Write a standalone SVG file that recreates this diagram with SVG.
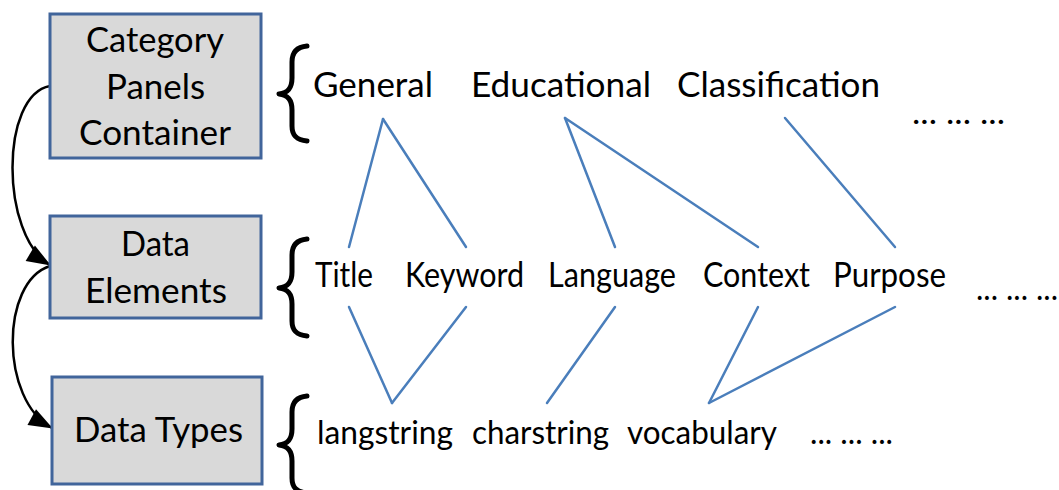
<svg xmlns="http://www.w3.org/2000/svg" width="1059" height="490" viewBox="0 0 1059 490">
<style>
.box{fill:#d9d9d9;stroke:#41659b;stroke-width:3}
.t{font-family:Lato,"Open Sans","Liberation Sans",sans-serif;fill:#000;font-size:34px}
.s{font-size:32px}
.link{stroke:#4a7ebb;stroke-width:2.5;fill:none;stroke-linecap:round}
.brace{stroke:#000;stroke-width:5;fill:none;stroke-linecap:round;stroke-linejoin:round}
.arr{stroke:#000;stroke-width:2.5;fill:none}
</style>
<defs>
<marker id="ah" markerUnits="userSpaceOnUse" markerWidth="26" markerHeight="20" refX="23" refY="9" orient="auto" overflow="visible">
<path d="M0,0 L24,9 L0,18 Z" fill="#000"/>
</marker>
</defs>
<rect width="1059" height="490" fill="#fff"/>
<g id="connectors">
<path class="arr" d="M50,86 C0,95 0,235 50,265" marker-end="url(#ah)"/>
<path class="arr" d="M50,266 C0,282 0,400 52,428" marker-end="url(#ah)"/>
<line class="link" x1="383" y1="119" x2="349" y2="247"/>
<line class="link" x1="383" y1="119" x2="466" y2="247"/>
<line class="link" x1="565" y1="118" x2="615" y2="247"/>
<line class="link" x1="565" y1="118" x2="758" y2="247"/>
<line class="link" x1="785" y1="118" x2="895" y2="247"/>
<line class="link" x1="349" y1="307" x2="392" y2="403"/>
<line class="link" x1="466" y1="307" x2="392" y2="403"/>
<line class="link" x1="615" y1="307" x2="547" y2="403"/>
<line class="link" x1="758" y1="307" x2="709" y2="403"/>
<line class="link" x1="895" y1="307" x2="709" y2="403"/>
</g>
<g id="category-panels">
<rect class="box" x="50" y="14" width="211" height="144"/>
<text class="t" x="86" y="52" textLength="138" lengthAdjust="spacingAndGlyphs">Category</text>
<text class="t" x="106" y="99" textLength="99" lengthAdjust="spacingAndGlyphs">Panels</text>
<text class="t" x="79" y="145" textLength="152" lengthAdjust="spacingAndGlyphs">Container</text>
</g>
<g id="data-elements">
<rect class="box" x="50" y="216" width="211" height="102"/>
<text class="t" x="121" y="256" textLength="69" lengthAdjust="spacingAndGlyphs">Data</text>
<text class="t" x="85" y="303" textLength="142" lengthAdjust="spacingAndGlyphs">Elements</text>
</g>
<g id="data-types">
<rect class="box" x="52" y="377" width="210" height="107"/>
<text class="t" x="74" y="442" textLength="169" lengthAdjust="spacingAndGlyphs">Data Types</text>
</g>
<g id="braces">
<path class="brace" d="M307,46 C296,47 292,53 292,62 L292,78 C292,88 288,93 279,94 C288,95 292,100 292,110 L292,126 C292,135 296,140 307,141"/>
<path class="brace" d="M307,239 C296,240 292,246 292,255 L292,272 C292,282 288,287 279,288 C288,289 292,294 292,304 L292,321 C292,330 296,335 307,336"/>
<path class="brace" d="M307,396 C296,397 292,403 292,412 L292,429 C292,439 288,444 279,445 C288,446 292,451 292,461 L292,478 C292,487 296,492 307,493"/>
</g>
<g id="categories">
<text class="t" x="313" y="97" textLength="120" lengthAdjust="spacingAndGlyphs">General</text>
<text class="t" x="471" y="97" textLength="180" lengthAdjust="spacingAndGlyphs">Educational</text>
<text class="t" x="677" y="97" textLength="203" lengthAdjust="spacingAndGlyphs">Classification</text>
<text class="t s" x="912" y="124" textLength="93" lengthAdjust="spacingAndGlyphs">... ... ...</text>
</g>
<g id="elements">
<text class="t" x="315" y="287" textLength="58" lengthAdjust="spacingAndGlyphs">Title</text>
<text class="t" x="405" y="287" textLength="119" lengthAdjust="spacingAndGlyphs">Keyword</text>
<text class="t" x="548" y="287" textLength="128" lengthAdjust="spacingAndGlyphs">Language</text>
<text class="t" x="703" y="287" textLength="107" lengthAdjust="spacingAndGlyphs">Context</text>
<text class="t" x="833" y="287" textLength="113" lengthAdjust="spacingAndGlyphs">Purpose</text>
<text class="t s" x="976" y="300" textLength="82" lengthAdjust="spacingAndGlyphs">... ... ...</text>
</g>
<g id="types">
<text class="t s" x="317" y="444" textLength="136" lengthAdjust="spacingAndGlyphs">langstring</text>
<text class="t s" x="472" y="444" textLength="137" lengthAdjust="spacingAndGlyphs">charstring</text>
<text class="t s" x="627" y="444" textLength="150" lengthAdjust="spacingAndGlyphs">vocabulary</text>
<text class="t s" x="810" y="444" textLength="83" lengthAdjust="spacingAndGlyphs">... ... ...</text>
</g>
</svg>
